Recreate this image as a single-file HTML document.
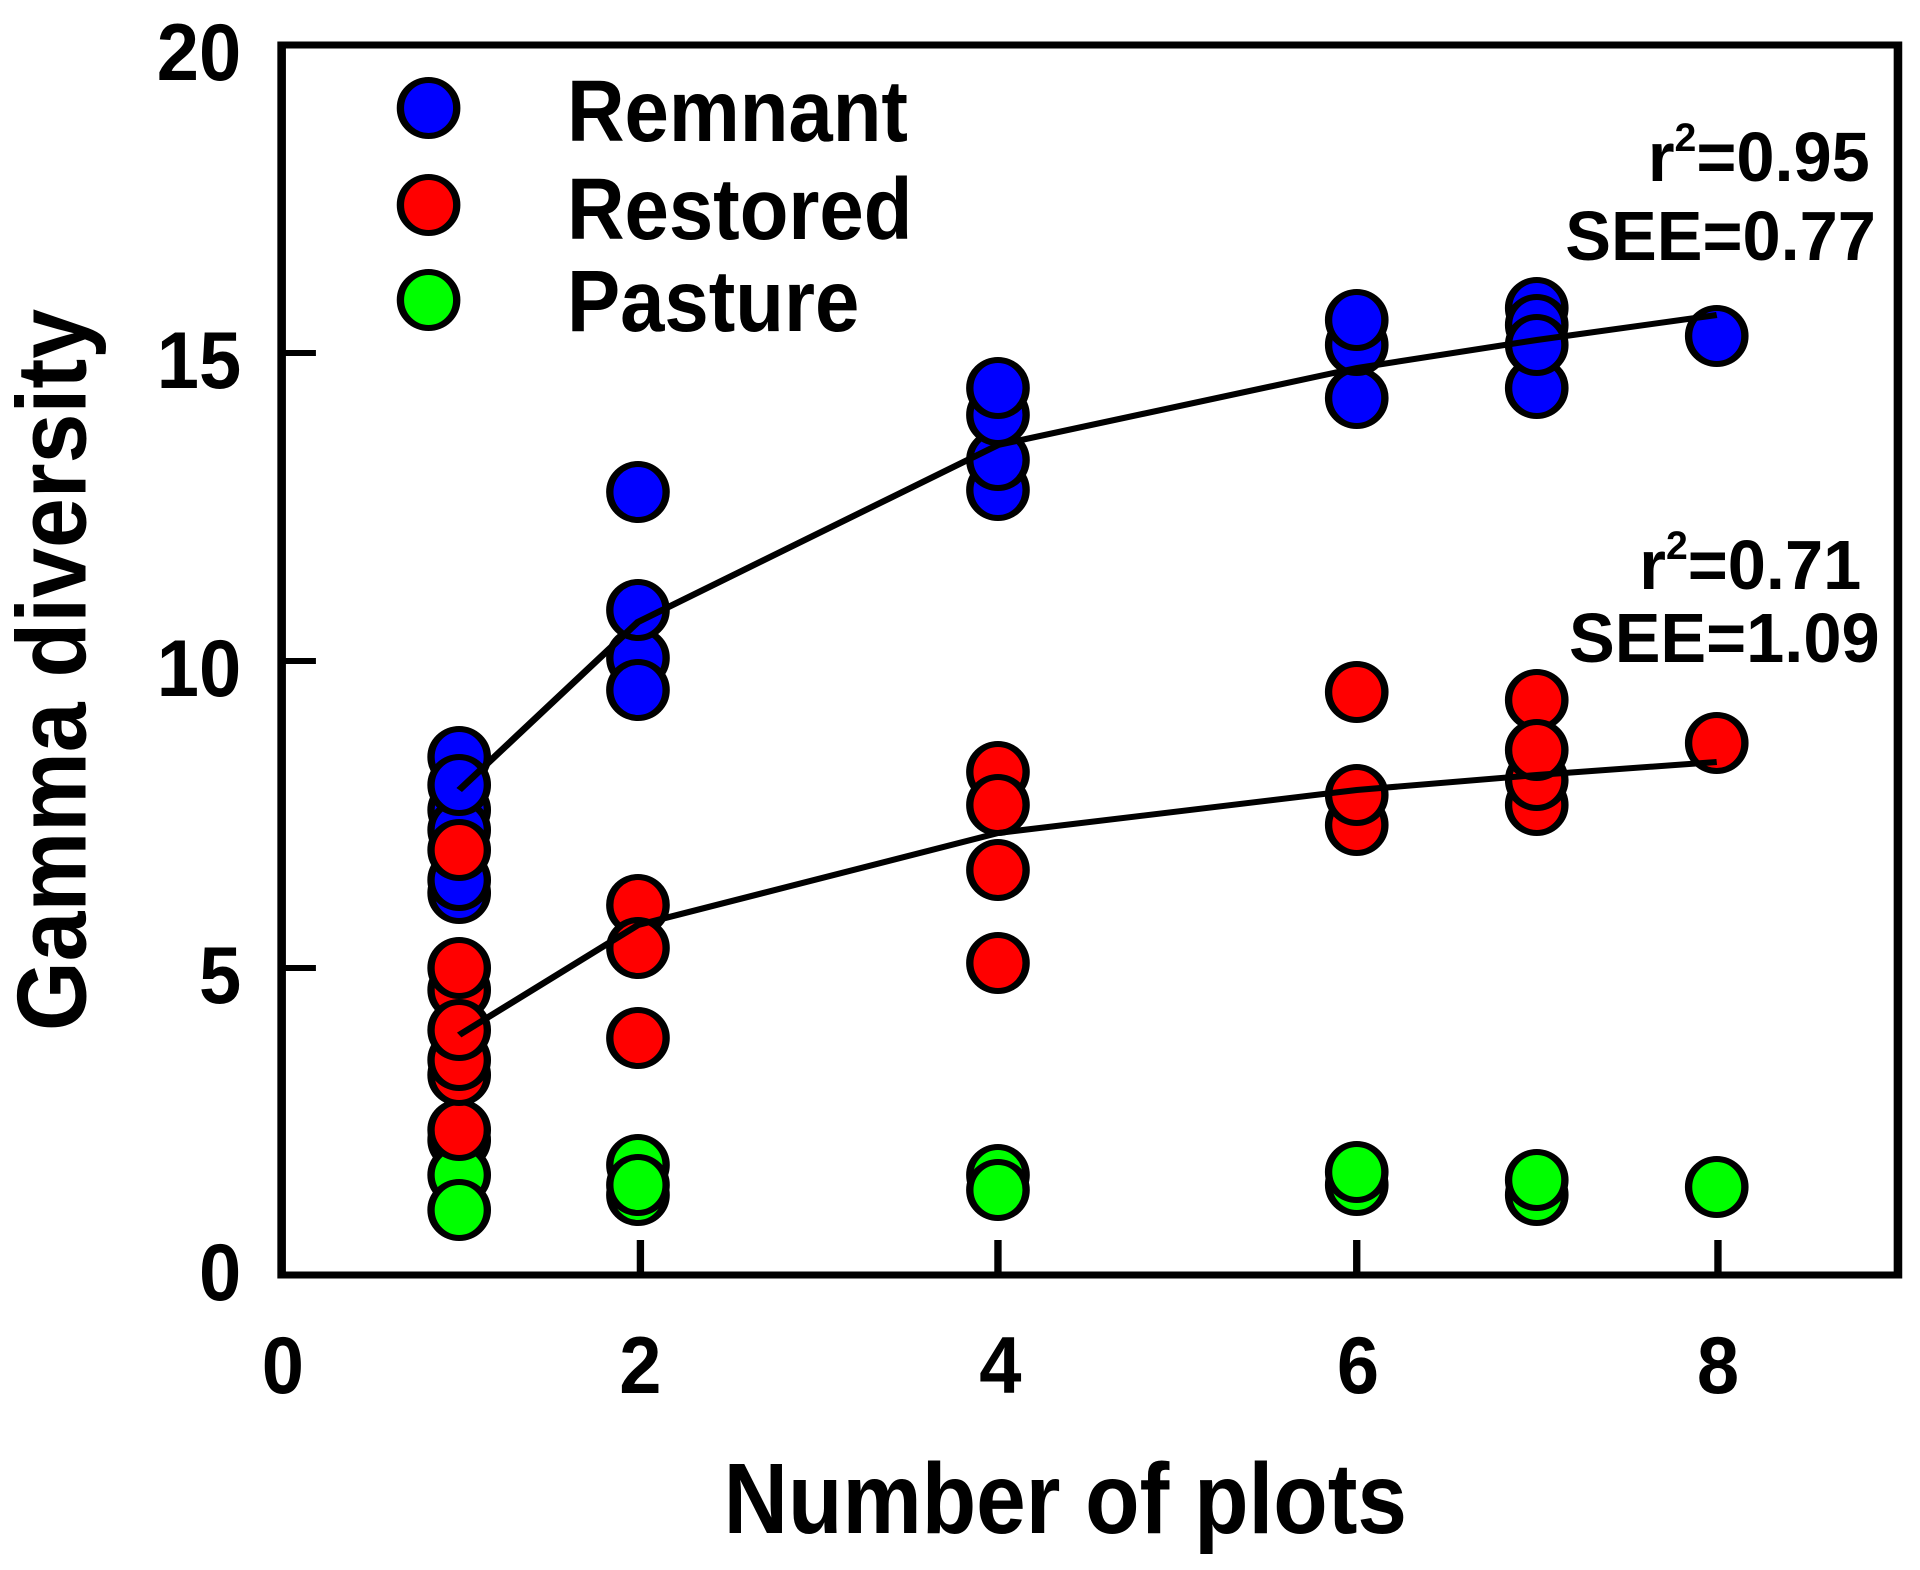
<!DOCTYPE html>
<html><head><style>html,body{margin:0;padding:0;background:#fff}svg{display:block}</style></head>
<body>
<svg width="1920" height="1570" viewBox="0 0 1568 1570" preserveAspectRatio="none" xmlns="http://www.w3.org/2000/svg" font-family="Liberation Sans, Arial, sans-serif" font-weight="bold">
<rect x="230" y="45" width="1320" height="1230" fill="none" stroke="#000" stroke-width="7"/>
<g stroke="#000" stroke-width="6">
<line x1="230" y1="353" x2="258" y2="353"/><line x1="230" y1="661" x2="258" y2="661"/><line x1="230" y1="968" x2="258" y2="968"/>
<line x1="523" y1="1275" x2="523" y2="1240"/><line x1="815" y1="1275" x2="815" y2="1240"/><line x1="1108" y1="1275" x2="1108" y2="1240"/><line x1="1403" y1="1275" x2="1403" y2="1240"/>
</g>
<g font-size="62" text-anchor="end">
<text transform="translate(197,80) scale(1,1.3)">20</text>
<text transform="translate(197,388) scale(1,1.3)">15</text>
<text transform="translate(197,696) scale(1,1.3)">10</text>
<text transform="translate(197,1003) scale(1,1.3)">5</text>
<text transform="translate(197,1300) scale(1,1.3)">0</text>
</g>
<g font-size="62" text-anchor="middle">
<text transform="translate(231,1393) scale(1,1.3)">0</text>
<text transform="translate(523,1393) scale(1,1.3)">2</text>
<text transform="translate(817,1393) scale(1,1.3)">4</text>
<text transform="translate(1109,1393) scale(1,1.3)">6</text>
<text transform="translate(1403,1393) scale(1,1.3)">8</text>
</g>
<text transform="translate(870,1533) scale(0.91,1.25)" font-size="80" text-anchor="middle">Number of plots</text>
<text transform="translate(70,670) rotate(-90) scale(1.12,1)" font-size="80" text-anchor="middle">Gamma diversity</text>
<g stroke="#000" stroke-width="6">
<g fill="#00ff00">
<ellipse cx="375" cy="1140" rx="23" ry="28"/><ellipse cx="375" cy="1175" rx="23" ry="28"/><ellipse cx="375" cy="1210" rx="23" ry="28"/>
<ellipse cx="521" cy="1165" rx="23" ry="28"/><ellipse cx="521" cy="1195" rx="23" ry="28"/><ellipse cx="521" cy="1185" rx="23" ry="28"/>
<ellipse cx="815" cy="1175" rx="23" ry="28"/><ellipse cx="815" cy="1190" rx="23" ry="28"/>
<ellipse cx="1108" cy="1185" rx="23" ry="28"/><ellipse cx="1108" cy="1172" rx="23" ry="28"/>
<ellipse cx="1255" cy="1195" rx="23" ry="28"/><ellipse cx="1255" cy="1180" rx="23" ry="28"/>
<ellipse cx="1402" cy="1187" rx="23" ry="28"/>
</g>
<g fill="#ff0000">
<ellipse cx="375" cy="1130" rx="23" ry="28"/><ellipse cx="375" cy="1075" rx="23" ry="28"/><ellipse cx="375" cy="1060" rx="23" ry="28"/><ellipse cx="375" cy="990" rx="23" ry="28"/><ellipse cx="375" cy="968" rx="23" ry="28"/><ellipse cx="375" cy="1030" rx="23" ry="28"/>
<ellipse cx="521" cy="905" rx="23" ry="28"/><ellipse cx="521" cy="948" rx="23" ry="28"/><ellipse cx="521" cy="1038" rx="23" ry="28"/>
<ellipse cx="815" cy="772" rx="23" ry="28"/><ellipse cx="815" cy="805" rx="23" ry="28"/><ellipse cx="815" cy="870" rx="23" ry="28"/><ellipse cx="815" cy="963" rx="23" ry="28"/>
<ellipse cx="1108" cy="692" rx="23" ry="28"/><ellipse cx="1108" cy="825" rx="23" ry="28"/><ellipse cx="1108" cy="795" rx="23" ry="28"/>
<ellipse cx="1255" cy="700" rx="23" ry="28"/><ellipse cx="1255" cy="805" rx="23" ry="28"/><ellipse cx="1255" cy="780" rx="23" ry="28"/><ellipse cx="1255" cy="750" rx="23" ry="28"/>
<ellipse cx="1402" cy="743" rx="23" ry="28"/>
</g>
<g fill="#0000ff">
<ellipse cx="375" cy="757" rx="23" ry="28"/><ellipse cx="375" cy="810" rx="23" ry="28"/><ellipse cx="375" cy="830" rx="23" ry="28"/><ellipse cx="375" cy="893" rx="23" ry="28"/><ellipse cx="375" cy="880" rx="23" ry="28"/><ellipse cx="375" cy="785" rx="23" ry="28"/>
<ellipse cx="521" cy="492" rx="23" ry="28"/><ellipse cx="521" cy="658" rx="23" ry="28"/><ellipse cx="521" cy="690" rx="23" ry="28"/><ellipse cx="521" cy="610" rx="23" ry="28"/>
<ellipse cx="815" cy="490" rx="23" ry="28"/><ellipse cx="815" cy="460" rx="23" ry="28"/><ellipse cx="815" cy="415" rx="23" ry="28"/><ellipse cx="815" cy="388" rx="23" ry="28"/>
<ellipse cx="1108" cy="398" rx="23" ry="28"/><ellipse cx="1108" cy="345" rx="23" ry="28"/><ellipse cx="1108" cy="320" rx="23" ry="28"/>
<ellipse cx="1255" cy="388" rx="23" ry="28"/><ellipse cx="1255" cy="308" rx="23" ry="28"/><ellipse cx="1255" cy="325" rx="23" ry="28"/><ellipse cx="1255" cy="345" rx="23" ry="28"/>
<ellipse cx="1402" cy="336" rx="23" ry="28"/>
</g>
<ellipse cx="375" cy="850" rx="23" ry="28" fill="#ff0000"/>
</g>
<g fill="none" stroke="#000" stroke-width="6">
<polyline points="375,790 521,622 815,445 1108,368 1255,340 1402,315"/>
<polyline points="375,1035 521,925 815,833 1108,790 1255,775 1402,762"/>
</g>
<g stroke="#000" stroke-width="6">
<ellipse cx="350" cy="108" rx="23" ry="28" fill="#0000ff"/>
<ellipse cx="350" cy="205" rx="23" ry="28" fill="#ff0000"/>
<ellipse cx="350" cy="300" rx="23" ry="28" fill="#00ff00"/>
</g>
<g font-size="70">
<text transform="translate(463,141) scale(0.93,1.25)">Remnant</text>
<text transform="translate(463,239) scale(0.93,1.25)">Restored</text>
<text transform="translate(463,331) scale(0.93,1.25)">Pasture</text>
</g>
<g font-size="56" text-anchor="end">
<text transform="translate(1527,181) scale(1,1.25)">r<tspan font-size="32" dy="-24">2</tspan><tspan dy="24">=0.95</tspan></text>
<text transform="translate(1532,260) scale(1,1.25)">SEE=0.77</text>
<text transform="translate(1520,589) scale(1,1.25)">r<tspan font-size="32" dy="-24">2</tspan><tspan dy="24">=0.71</tspan></text>
<text transform="translate(1535,662) scale(1,1.25)">SEE=1.09</text>
</g>
</svg>
</body></html>
